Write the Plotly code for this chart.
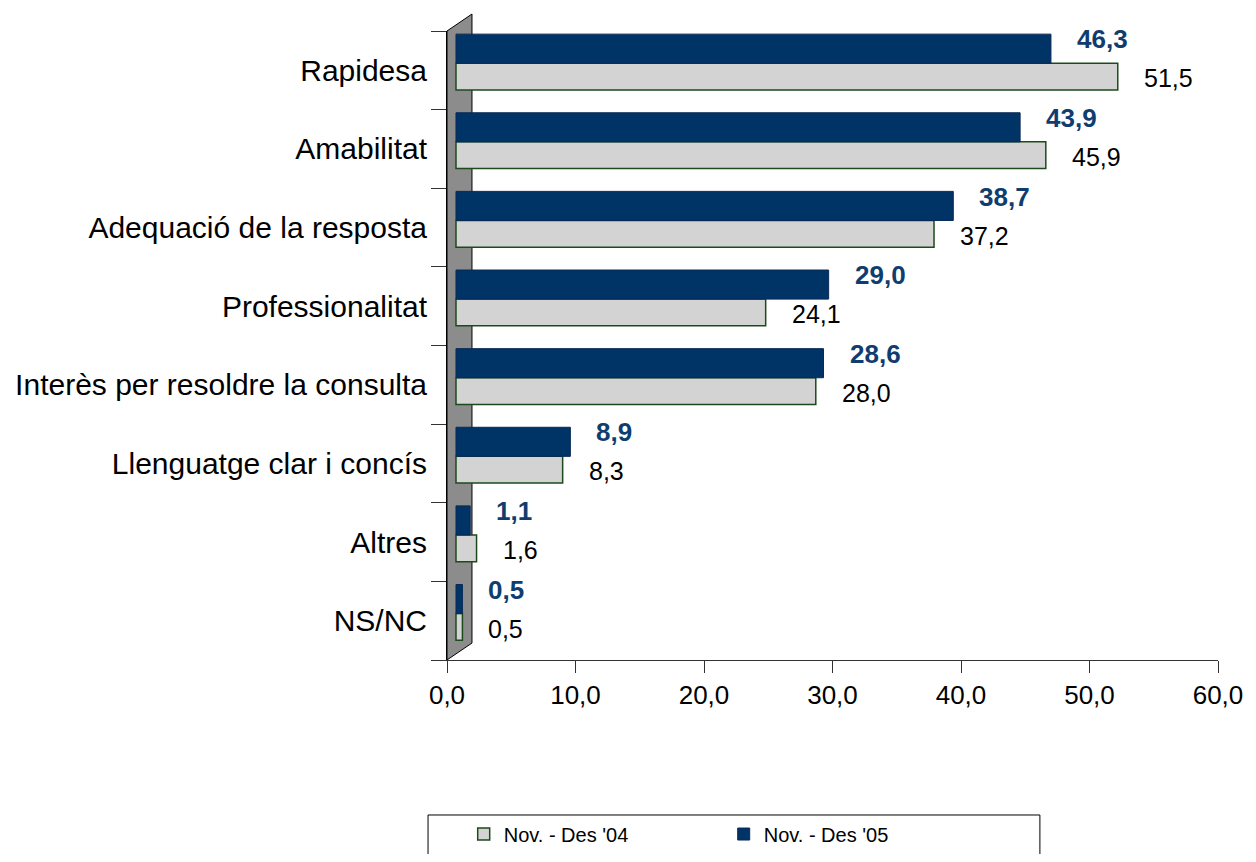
import plotly.graph_objects as go

categories = ["Rapidesa", "Amabilitat", "Adequació de la resposta", "Professionalitat",
              "Interès per resoldre la consulta", "Llenguatge clar i concís", "Altres", "NS/NC"]
values_04 = [51.5, 45.9, 37.2, 24.1, 28.0, 8.3, 1.6, 0.5]
values_05 = [46.3, 43.9, 38.7, 29.0, 28.6, 8.9, 1.1, 0.5]
series_names = ["Nov. - Des '04", "Nov. - Des '05"]
x_ticks = [0, 10, 20, 30, 40, 50, 60]

FONT = "Liberation Sans, Arial, sans-serif"
NAVY = "#003366"
LABEL_NAVY = "#0f3d70"
DEPTH = 0.7  # 3d wall offset, in axis units

fig = go.Figure()

fig.add_trace(go.Bar(
    y=categories, x=values_04, base=DEPTH, orientation="h", name=series_names[0],
    width=0.34, offset=-0.25,
    marker=dict(color="#d3d3d3", line=dict(color="#1d4a1d", width=1.5)),
))
fig.add_trace(go.Bar(
    y=categories, x=values_05, base=DEPTH, orientation="h", name=series_names[1],
    width=0.37, offset=0.09,
    marker=dict(color=NAVY, line=dict(color="#0a2a55", width=1)),
))

annotations = []
for cat, v in zip(categories, values_04):
    annotations.append(dict(
        x=v + DEPTH, y=cat, xref="x", yref="y", text=f"{v:.1f}".replace(".", ","),
        showarrow=False, xanchor="left", xshift=24, yshift=-8,
        font=dict(family=FONT, size=25, color="black"),
    ))
for cat, v in zip(categories, values_05):
    annotations.append(dict(
        x=v + DEPTH, y=cat, xref="x", yref="y", text=f"<b>{v:.1f}</b>".replace(".", ","),
        showarrow=False, xanchor="left", xshift=24, yshift=31,
        font=dict(family=FONT, size=26, color=LABEL_NAVY),
    ))

shapes = [
    # grey back wall
    dict(type="path", xref="paper", yref="paper",
         path="M 0,0 L 0,1 L 0.0324,1.027 L 0.0324,0.027 Z",
         fillcolor="#8c8c8c", line=dict(color="black", width=1), layer="below"),
    # legend frame
    dict(type="rect", xref="paper", yref="paper", x0=-0.0246, x1=0.769, y0=-0.45, y1=-0.2464,
         line=dict(color="black", width=1), fillcolor="rgba(0,0,0,0)"),
]

# page body has an 8px margin, so the figure is a bit smaller than the window
fig.update_layout(
    width=1240, height=846,
    margin=dict(l=439, r=30, t=23, b=194, autoexpand=False),
    plot_bgcolor="white", paper_bgcolor="white",
    barmode="overlay",
    separators=",.",
    font=dict(family=FONT, size=24, color="black"),
    showlegend=True,
    legend=dict(orientation="h", xref="container", yref="container",
                x=0.3675, y=0.0236, xanchor="left", yanchor="middle",
                entrywidth=215, font=dict(family=FONT, size=20, color="black"),
                bgcolor="rgba(0,0,0,0)"),
    annotations=annotations,
    shapes=shapes,
)

fig.update_xaxes(range=[0, 60], tickvals=x_ticks, tickformat=".1f", automargin=False,
                 showgrid=False, zeroline=False, showline=True, linecolor="#333333", linewidth=1,
                 ticks="outside", ticklen=12, tickcolor="#333333",
                 tickfont=dict(family=FONT, size=26, color="black"))
fig.update_yaxes(categoryorder="array", categoryarray=categories[::-1], automargin=False,
                 range=[-0.5, len(categories) - 0.5],
                 showgrid=False, zeroline=False, showline=True, linecolor="black", linewidth=1,
                 ticks="outside", tickson="boundaries", ticklen=15, tickcolor="#333333",
                 tickfont=dict(family=FONT, size=30, color="black"), ticklabelstandoff=13)

fig.write_html("out.html")
